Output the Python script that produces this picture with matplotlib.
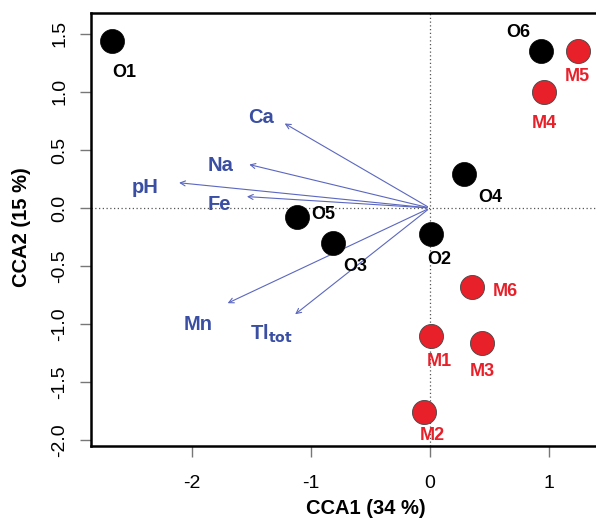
import numpy as np
import matplotlib.pyplot as plt

plt.rcParams['font.family'] = ['Liberation Sans', 'DejaVu Sans']

# site scores
o_names = ['O1', 'O2', 'O3', 'O4', 'O5', 'O6']
o_x = [-2.67, 0.01, -0.81, 0.29, -1.12, 0.93]
o_y = [1.44, -0.22, -0.30, 0.29, -0.08, 1.35]

m_names = ['M1', 'M2', 'M3', 'M4', 'M5', 'M6']
m_x = [0.01, -0.05, 0.44, 0.96, 1.24, 0.35]
m_y = [-1.10, -1.76, -1.16, 1.00, 1.35, -0.68]

# environmental vectors
env_names = ['Ca', 'Na', 'pH', 'Fe', 'Mn', r'Tl$_{\mathbf{tot}}$']
env_x = [-1.24, -1.54, -2.13, -1.56, -1.72, -1.15]
env_y = [0.74, 0.38, 0.22, 0.10, -0.83, -0.93]

fig = plt.figure(figsize=(5.96, 5.22), dpi=100)
ax = fig.add_axes([0.152, 0.1456, 0.859, 0.8295])
ax.set_xlim(-2.85, 1.45)
ax.set_ylim(-2.05, 1.68)

ax.axhline(0, color='#555555', ls=(0, (1, 2)), lw=0.9, zorder=1)
ax.axvline(0, color='#555555', ls=(0, (1, 2)), lw=0.9, zorder=1)

blue = '#3a4fa3'
for n, ex, ey in zip(env_names, env_x, env_y):
    ax.annotate('', xy=(ex, ey), xytext=(0, 0),
                arrowprops=dict(arrowstyle='->', color='#5b67c0', lw=0.8,
                                mutation_scale=9), zorder=2)
off = {'Ca': (-0.18, 0.04), 'Na': (-0.22, -0.01), 'pH': (-0.26, -0.04),
       'Fe': (-0.21, -0.07), 'Mn': (-0.23, -0.17), r'Tl$_{\mathbf{tot}}$': (-0.18, -0.15)}
for n, ex, ey in zip(env_names, env_x, env_y):
    dx, dy = off[n]
    ax.text(ex + dx, ey + dy, n, color=blue, fontsize=14.5, fontweight='bold',
            ha='center', va='center', zorder=3)

ax.scatter(o_x, o_y, s=300, c='black', edgecolors='black', lw=0.5, zorder=4)
ax.scatter(m_x, m_y, s=300, c='#e8202a', edgecolors='#444444', lw=0.6, zorder=4)

o_off = {'O1': (0.1, -0.27), 'O2': (0.07, -0.22), 'O3': (0.18, -0.2),
         'O4': (0.22, -0.2), 'O5': (0.22, 0.02), 'O6': (-0.19, 0.16)}
m_off = {'M1': (0.07, -0.22), 'M2': (0.07, -0.2), 'M3': (0.0, -0.25),
         'M4': (0.0, -0.27), 'M5': (0.0, -0.22), 'M6': (0.28, -0.04)}
for n, x, y in zip(o_names, o_x, o_y):
    dx, dy = o_off[n]
    ax.text(x + dx, y + dy, n, color='black', fontsize=13, fontweight='bold',
            ha='center', va='center', zorder=5)
for n, x, y in zip(m_names, m_x, m_y):
    dx, dy = m_off[n]
    ax.text(x + dx, y + dy, n, color='#e8202a', fontsize=13, fontweight='bold',
            ha='center', va='center', zorder=5)

ax.set_xticks([-2, -1, 0, 1])
ax.set_xticklabels(['-2', '-1', '0', '1'])
ax.set_yticks([-2.0, -1.5, -1.0, -0.5, 0.0, 0.5, 1.0, 1.5])
ax.set_yticklabels(['-2.0', '-1.5', '-1.0', '-0.5', '0.0', '0.5', '1.0', '1.5'],
                   rotation=90, va='center')
ax.tick_params(axis='both', length=8, width=1, color='#777777', labelsize=14)
ax.tick_params(axis='x', pad=13)
ax.tick_params(axis='y', pad=8)
for s in ax.spines.values():
    s.set_linewidth(1.8)

fig.text(366 / 596, 1 - 508 / 522, 'CCA1 (34 %)', ha='center', va='center',
         fontsize=14.5, fontweight='bold')
fig.text(22 / 596, 1 - 227 / 522, 'CCA2 (15 %)', ha='center', va='center',
         fontsize=14.5, fontweight='bold', rotation=90)

fig.savefig('out.png', dpi=100)
